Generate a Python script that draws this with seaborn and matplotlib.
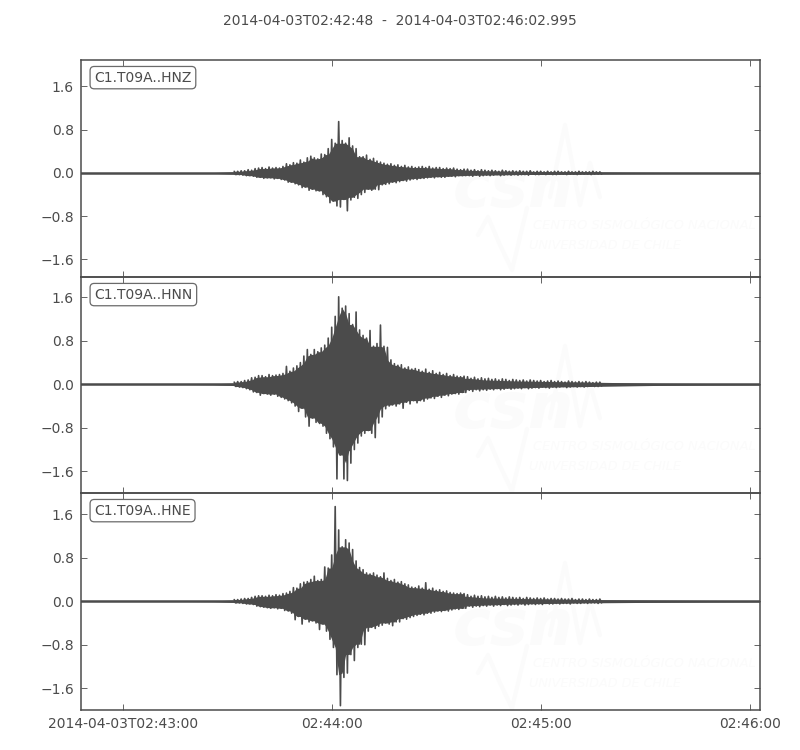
import matplotlib
matplotlib.use('Agg')
import matplotlib.pyplot as plt
import pandas as pd
import seaborn as sns

# seconds since 02:42:48
knot_times = [0, 30, 38, 40, 43, 46, 48.5, 51, 54, 57, 59, 62, 65, 67.5, 69, 71.5, 73, 75, 77, 79,
              82, 85, 87.5, 91.5, 97, 102, 107, 111.5, 116, 126, 136, 146, 156, 166, 180, 195]

# solid part of each waveform
hnz_hi = [0.004, 0.005, 0.008, 0.012, 0.02, 0.025, 0.04, 0.07, 0.085, 0.09, 0.13, 0.17, 0.22, 0.25, 0.28, 0.35, 0.46, 0.48,
          0.42, 0.30, 0.24, 0.19, 0.14, 0.11, 0.09, 0.08, 0.06, 0.05, 0.04, 0.03, 0.025, 0.02, 0.015, 0.012, 0.01, 0.008]
hnz_lo = [-0.004, -0.005, -0.008, -0.012, -0.02, -0.025, -0.04, -0.07, -0.08, -0.09, -0.13, -0.19, -0.25, -0.28, -0.31, -0.37, -0.44, -0.42,
          -0.38, -0.32, -0.25, -0.19, -0.14, -0.11, -0.08, -0.065, -0.05, -0.045, -0.04, -0.03, -0.025, -0.02, -0.015, -0.012, -0.01, -0.008]
hnn_hi = [0.004, 0.005, 0.01, 0.015, 0.02, 0.03, 0.055, 0.10, 0.11, 0.13, 0.18, 0.27, 0.40, 0.50, 0.56, 0.70, 0.95, 1.15,
          1.12, 0.85, 0.72, 0.48, 0.30, 0.25, 0.19, 0.15, 0.11, 0.11, 0.08, 0.06, 0.05, 0.04, 0.03, 0.02, 0.015, 0.012]
hnn_lo = [-0.004, -0.005, -0.01, -0.015, -0.02, -0.03, -0.065, -0.12, -0.14, -0.17, -0.22, -0.30, -0.46, -0.58, -0.68, -0.85, -1.05, -1.20,
          -1.22, -0.98, -0.72, -0.40, -0.33, -0.28, -0.22, -0.17, -0.12, -0.095, -0.085, -0.065, -0.05, -0.04, -0.03, -0.02, -0.015, -0.012]
hne_hi = [0.004, 0.005, 0.008, 0.012, 0.02, 0.025, 0.04, 0.075, 0.085, 0.095, 0.12, 0.16, 0.27, 0.32, 0.33, 0.50, 0.78, 0.92,
          0.85, 0.56, 0.43, 0.33, 0.24, 0.22, 0.16, 0.115, 0.11, 0.085, 0.06, 0.05, 0.04, 0.03, 0.025, 0.02, 0.015, 0.012]
hne_lo = [-0.004, -0.005, -0.008, -0.012, -0.02, -0.025, -0.04, -0.075, -0.10, -0.115, -0.14, -0.20, -0.28, -0.32, -0.35, -0.55, -0.78, -0.88,
          -0.76, -0.50, -0.39, -0.38, -0.33, -0.25, -0.17, -0.14, -0.11, -0.085, -0.07, -0.05, -0.04, -0.03, -0.025, -0.02, -0.015, -0.012]

# swing peaks, one per second from 44 s to 110 s
hnz_up = [.03, .03, .04, .04, .06, .05, .08, .09, .10, .08, .11, .09, .10, .09, .12, .17, .15, .19, .18, .24,
          .20, .28, .31, .28, .26, .35, .34, .45, .62, .55, .95, .60, .55, .65, .50, .45, .30, .30, .33, .25,
          .27, .22, .20, .18, .16, .17, .14, .15, .12, .14, .11, .12, .10, .11, .12, .10, .12, .09, .10, .10,
          .08, .09, .08, .09, .07, .06, .07]
hnz_down = [.03, .03, .04, .05, .05, .06, .08, .08, .10, .09, .09, .11, .10, .12, .13, .17, .17, .20, .22, .27,
            .26, .32, .30, .33, .33, .40, .44, .55, .52, .61, .63, .49, .70, .50, .45, .47, .40, .36, .30, .32,
            .30, .31, .22, .21, .20, .17, .18, .16, .14, .15, .13, .11, .12, .10, .10, .09, .08, .09, .07, .08,
            .08, .06, .06, .07, .05, .05, .05]
hnn_up = [.04, .05, .05, .07, .08, .12, .13, .16, .16, .14, .18, .16, .17, .18, .20, .33, .24, .30, .34, .40,
          .52, .64, .55, .64, .60, .67, .72, .85, 1.05, 1.25, 1.61, 1.40, 1.44, 1.30, 1.10, 1.33, 1.00, .90, .85, .99,
          .70, .75, 1.09, .70, .68, .45, .38, .35, .36, .30, .32, .28, .29, .27, .24, .28, .22, .25, .20, .22,
          .18, .20, .16, .18, .15, .14, .15]
hnn_down = [.04, .05, .06, .08, .10, .14, .15, .20, .17, .18, .20, .18, .22, .24, .27, .30, .34, .40, .50, .44,
            .60, .77, .62, .70, .72, .77, .90, 1.0, 1.15, 1.74, 1.30, 1.74, 1.77, 1.45, 1.20, 1.08, .95, .90, .85, .90,
            .98, .71, .60, .45, .40, .38, .40, .36, .44, .33, .36, .30, .34, .30, .31, .27, .25, .26, .22, .24,
            .20, .21, .18, .17, .18, .15, .15]
hne_up = [.03, .03, .04, .05, .05, .07, .09, .10, .10, .09, .11, .10, .12, .11, .14, .15, .18, .25, .24, .32,
          .35, .36, .40, .46, .38, .40, .63, .61, .85, 1.74, 1.31, 1.0, 1.13, 1.07, .95, .74, .62, .58, .52, .50,
          .52, .48, .45, .52, .42, .38, .40, .35, .36, .32, .30, .26, .25, .28, .24, .34, .22, .24, .20, .21,
          .18, .19, .16, .15, .14, .15, .14]
hne_down = [.03, .03, .04, .05, .05, .06, .09, .10, .11, .12, .13, .12, .14, .13, .17, .18, .22, .34, .28, .42,
            .33, .38, .36, .40, .52, .42, .55, .70, .85, 1.35, 1.92, 1.40, 1.32, .98, 1.09, .85, .79, .80, .55, .48,
            .50, .46, .44, .40, .42, .45, .38, .38, .32, .33, .30, .28, .26, .24, .25, .22, .22, .20, .18, .19,
            .17, .18, .16, .14, .15, .13, .13]

# coda swings from 111 s on, one per second
hnz_tail = [.07, .05, .06, .04, .06, .05, .04, .05, .04, .03, .05, .04, .03, .04, .03, .04, .03, .03, .04, .02,
            .03, .03, .02, .03, .02, .03, .03, .02, .02, .03, .02, .02, .03, .02, .02, .02, .03, .02, .02, .02]
hnn_tail = [.14, .11, .13, .10, .12, .10, .11, .09, .10, .08, .10, .09, .07, .09, .08, .07, .08, .06, .08, .07,
            .06, .07, .05, .06, .07, .05, .06, .05, .04, .06, .05, .04, .05, .04, .05, .04, .03, .04, .04, .03]
hne_tail = [.12, .09, .11, .09, .10, .08, .09, .07, .09, .07, .08, .06, .08, .07, .06, .07, .05, .07, .06, .05,
            .06, .05, .06, .04, .05, .05, .04, .05, .04, .04, .05, .03, .04, .04, .03, .04, .03, .03, .04, .03]

channels = ['C1.T09A..HNZ', 'C1.T09A..HNN', 'C1.T09A..HNE']
ylims = [(-1.925, 2.09), (-2.0, 1.975), (-2.0, 1.99)]
yticks = [-1.6, -0.8, 0.0, 0.8, 1.6]
xticks = [12, 72, 132, 192]
xticklabels = ['2014-04-03T02:43:00', '02:44:00', '02:45:00', '02:46:00']
title = '2014-04-03T02:42:48  -  2014-04-03T02:46:02.995'
t_end = 194.995

ink = '#4b4b4b'
faint = '#fbfbfb'

sns.set_style('white')
plt.rcParams['font.family'] = ['DejaVu Sans']

fig = plt.figure(figsize=(8, 7.5), dpi=100)
panel_tops = [60, 277, 493]
panel_bottoms = [277, 493, 710]
series = [(hnz_hi, hnz_lo, hnz_up, hnz_down, hnz_tail),
          (hnn_hi, hnn_lo, hnn_up, hnn_down, hnn_tail),
          (hne_hi, hne_lo, hne_up, hne_down, hne_tail)]


def draw_logo(dy):
    # faint CSN watermark behind the trace, placed in pixels
    def fx(p):
        return p / 800
    def fy(p):
        return 1 - (p + dy) / 750
    fig.text(fx(453), fy(207), 'csn', fontsize=46, style='italic', weight='bold', color=faint, zorder=0)
    fig.text(fx(533), fy(229), 'CENTRO SISMOLÓGICO NACIONAL', fontsize=9.4, style='italic', color=faint, zorder=0)
    fig.text(fx(529), fy(249), 'UNIVERSIDAD DE CHILE', fontsize=9.2, style='italic', color=faint, zorder=0)
    top_x = [550, 565, 580, 590, 600]
    top_y = [197, 125, 205, 163, 197]
    low_x = [478, 488, 500, 512, 527]
    low_y = [235, 217, 245, 270, 208]
    for xs, ys in ((top_x, top_y), (low_x, low_y)):
        fig.add_artist(plt.Line2D([fx(v) for v in xs], [fy(v) for v in ys], color=faint, lw=3,
                                  transform=fig.transFigure, zorder=0))


for i, (hi, lo, up, down, tail) in enumerate(series):
    ax = fig.add_axes([81 / 800, 1 - panel_bottoms[i] / 750, 679 / 800, (panel_bottoms[i] - panel_tops[i]) / 750])
    ax.patch.set_alpha(0)
    ax.set_zorder(2)

    # swing between the peaks second by second, like the raw trace
    trace_t = []
    trace_a = []
    for k, (u, d) in enumerate(zip(up, down)):
        trace_t += [44 + k, 44.5 + k]
        trace_a += [u, -d]
    for k in range(len(tail) - 1):
        trace_t += [111 + k, 111.5 + k]
        trace_a += [tail[k], -tail[k + 1]]
    df = pd.DataFrame({'time': trace_t, 'amplitude': trace_a})
    mid = pd.DataFrame({'time': knot_times, 'amplitude': [0.0] * len(knot_times)})

    # local minimum of the peaks stays solid, only the spikes stick out
    peak_t = [44 + k for k in range(len(up))]
    core_up = pd.Series(up).rolling(3, center=True, min_periods=1).min()
    core_down = pd.Series(down).rolling(3, center=True, min_periods=1).min()

    ax.fill_between(knot_times, lo, hi, color=ink, lw=0)
    ax.fill_between(peak_t, -core_down, core_up, color=ink, lw=0)
    sns.lineplot(data=mid, x='time', y='amplitude', ax=ax, color=ink, lw=1.8, estimator=None)
    sns.lineplot(data=df, x='time', y='amplitude', ax=ax, color=ink, lw=1.2, sort=False, estimator=None)

    ax.set_xlim(0, t_end)
    ax.set_ylim(*ylims[i])
    ax.set_xlabel('')
    ax.set_ylabel('')
    ax.set_yticks(yticks)
    ax.set_yticklabels(['%.1f' % v if v >= 0 else '\u2212%.1f' % abs(v) for v in yticks])
    ax.set_xticks(xticks)
    ax.set_xticklabels(xticklabels if i == 2 else [])
    ax.tick_params(direction='in', length=4, width=0.6, color=ink, labelcolor=ink, labelsize=10,
                   top=True, right=True, left=True, bottom=True, pad=5)
    for spine in ax.spines.values():
        spine.set_color(ink)
        spine.set_linewidth(1.1)
    ax.text(0.0195, 0.951, channels[i], transform=ax.transAxes, fontsize=10, color=ink, va='top', ha='left',
            bbox=dict(boxstyle='round,pad=0.3', fc='white', ec='#6a6a6a', lw=0.9))
    draw_logo([0, 221, 438][i])

fig.text(0.5, 1 - 21 / 750, title, ha='center', va='center', fontsize=10, color=ink)
fig.savefig('out.png', dpi=100)
